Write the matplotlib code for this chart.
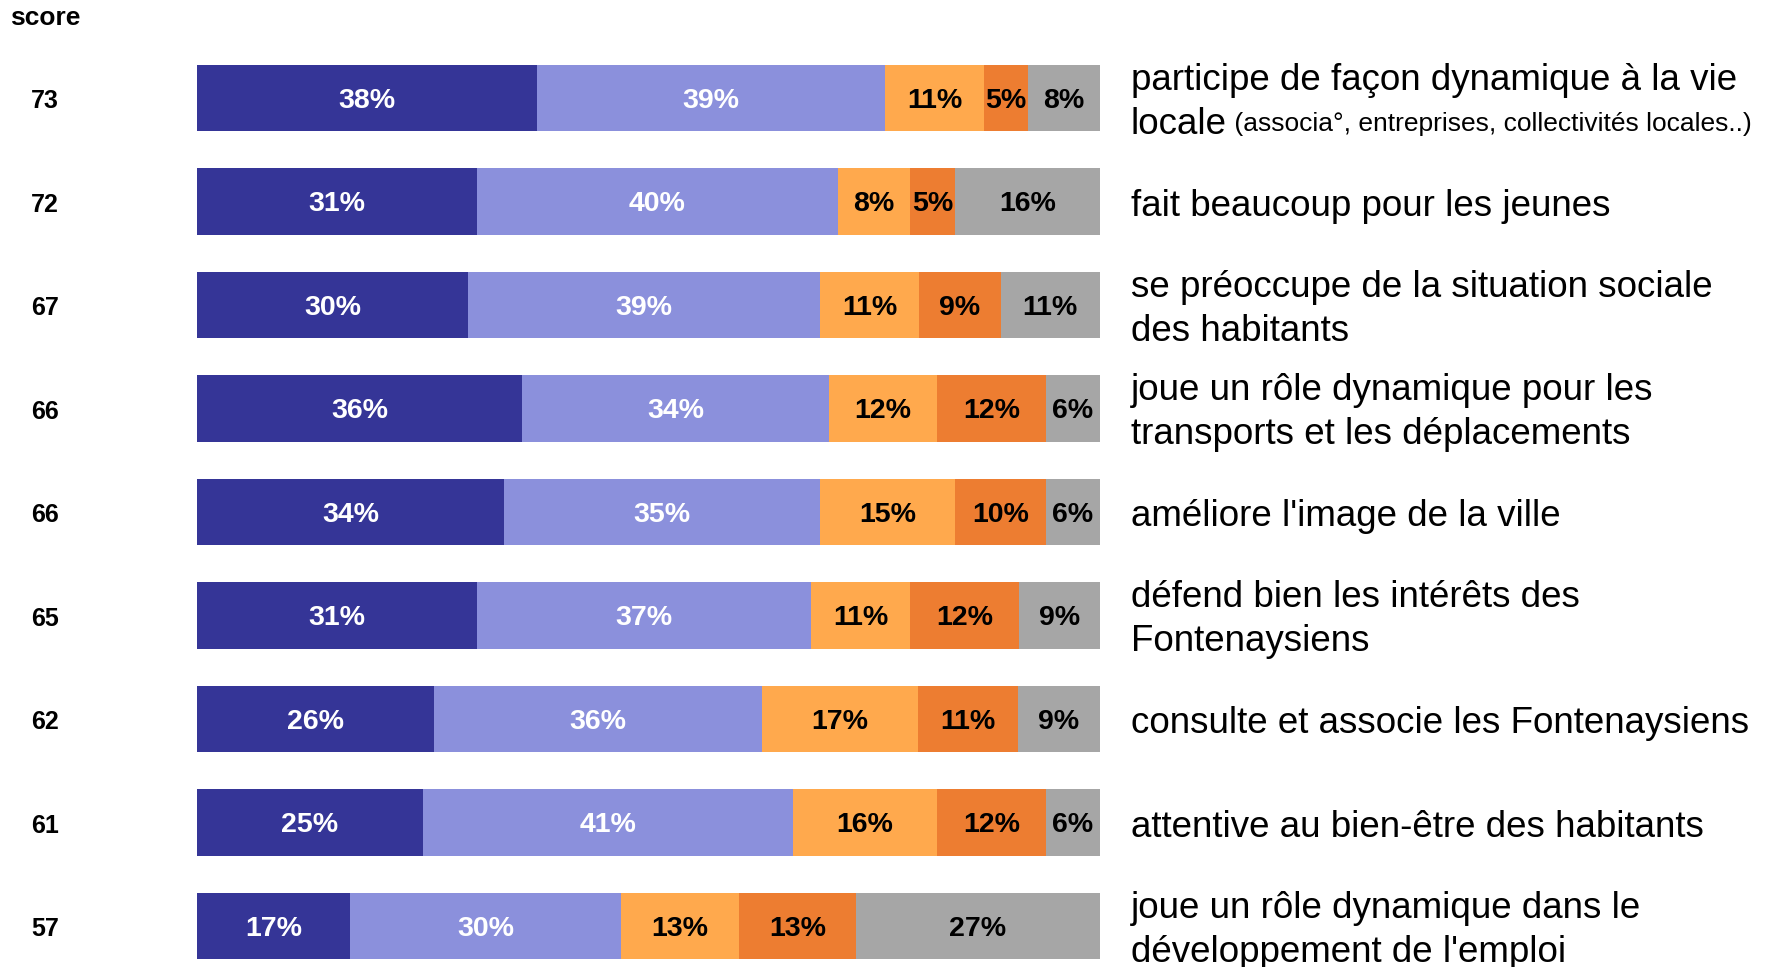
import matplotlib.pyplot as plt
from matplotlib.transforms import blended_transform_factory
import numpy as np

plt.rcParams['font.family'] = ['Liberation Sans', 'DejaVu Sans']

scores = [73, 72, 67, 66, 66, 65, 62, 61, 57]

# lignes de texte a droite (une ou deux lignes)
labels = [
    ["participe de façon dynamique à la vie", "locale"],
    ["fait beaucoup pour les jeunes"],
    ["se préoccupe de la situation sociale", "des habitants"],
    ["joue un rôle dynamique pour les", "transports et les déplacements"],
    ["améliore l'image de la ville"],
    ["défend bien les intérêts des", "Fontenaysiens"],
    ["consulte et associe les Fontenaysiens"],
    ["attentive au bien-être des habitants"],
    ["joue un rôle dynamique dans le", "développement de l'emploi"],
]
note_row0 = "(associa°, entreprises, collectivités locales..)"

tout_a_fait = [38, 31, 30, 36, 34, 31, 26, 25, 17]
plutot_oui = [39, 40, 39, 34, 35, 37, 36, 41, 30]
plutot_non = [11, 8, 11, 12, 15, 11, 17, 16, 13]
pas_du_tout = [5, 5, 9, 12, 10, 12, 11, 12, 13]
nsp = [8, 16, 11, 6, 6, 9, 9, 6, 27]

series = [tout_a_fait, plutot_oui, plutot_non, pas_du_tout, nsp]
colors = ["#353597", "#8b90dc", "#ffa94d", "#ed7d31", "#a6a6a6"]
text_colors = ["white", "white", "black", "black", "black"]

data = np.array(series, dtype=float)
widths = data / data.sum(axis=0) * 100  # barres a 100%

fig = plt.figure(figsize=(17.79, 9.67), dpi=100)
ax = fig.add_axes([0.1107, 0, 0.5076, 1])

y = np.arange(len(scores))
left = np.zeros(len(scores))
for i in range(len(series)):
    ax.barh(y, widths[i], left=left, height=0.64, color=colors[i])
    for j in range(len(scores)):
        ax.text(left[j] + widths[i][j] / 2, y[j] + 0.025, "%d%%" % series[i][j],
                ha="center", va="center", fontsize=20.5, fontweight="bold",
                color=text_colors[i])
    left += widths[i]

ax.set_xlim(0, 100)
ax.set_ylim(8.396, -0.947)
ax.axis("off")

trans = blended_transform_factory(fig.transFigure, ax.transData)
fig.text(0.0253, 0.981, "score", ha="center", va="center", fontsize=19, fontweight="bold")
for j in range(len(scores)):
    ax.text(0.0253, y[j] + 0.03, str(scores[j]), transform=trans, ha="center", va="center",
            fontsize=18, fontweight="bold")
    lines = labels[j]
    if len(lines) == 1:
        ax.text(0.6357, y[j] + 0.045, lines[0], transform=trans, va="center", fontsize=26.5)
    else:
        ax.text(0.6357, y[j] - 0.17, lines[0], transform=trans, va="center", fontsize=26.5)
        t2 = ax.text(0.6357, y[j] + 0.255, lines[1], transform=trans, va="center", fontsize=26.5)
        if j == 0:
            ax.annotate(" " + note_row0, xy=(1, 0.5), xycoords=t2, va="center",
                        fontsize=19)

fig.savefig("out.png", dpi=100)
